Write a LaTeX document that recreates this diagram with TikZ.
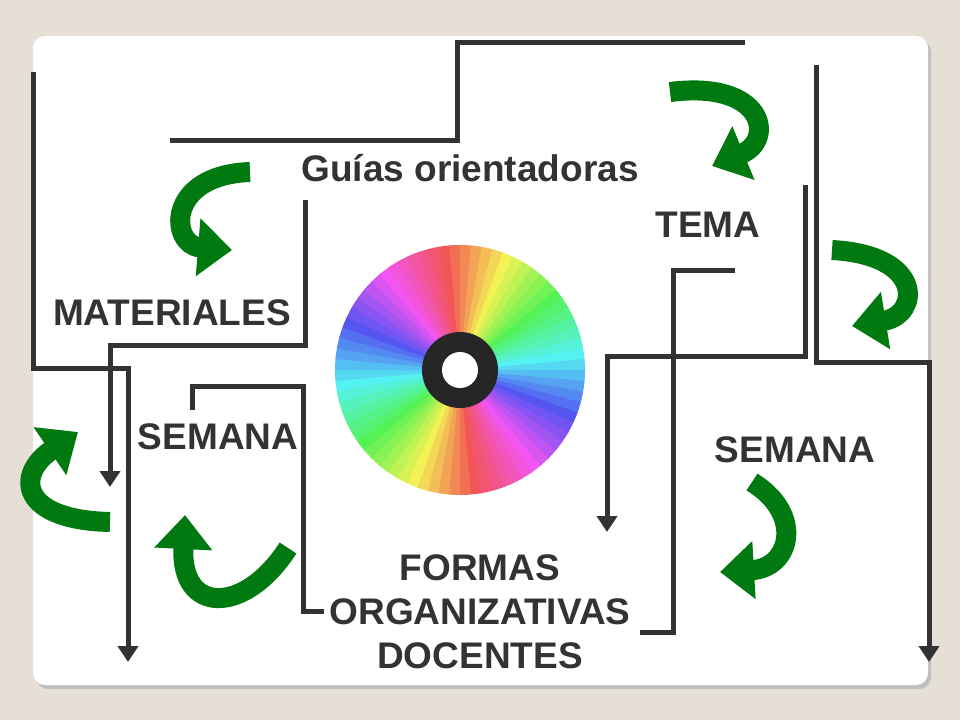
\documentclass[tikz,border=0pt]{standalone}
\usepackage{fontspec}
\setmainfont{Liberation Sans}
\usetikzlibrary{arrows.meta}
\definecolor{bg}{HTML}{E5DFD5}
\definecolor{ln}{HTML}{333333}
\definecolor{gr}{HTML}{007A10}
\begin{document}
\begin{tikzpicture}[x=1pt,y=-1pt,
  conn/.style={draw=ln,line width=5pt},
  arr/.style={conn,-{Triangle[length=16pt,width=20pt]}},
  garr/.style={draw=gr,line width=20pt,-{Triangle[length=34pt,width=56pt]}},
  lbl/.style={font=\fontsize{37}{44}\selectfont\bfseries,text=ln,align=center}]
\fill[bg] (0,0) rectangle (960,720);
\useasboundingbox (0,0) rectangle (960,720);
\fill[black!25,rounded corners=12pt] (36,40) rectangle (931,689);
\fill[white,rounded corners=12pt] (33,36) rectangle (928,685);
% disc
\foreach \i in {0,...,71}{
  \pgfmathsetmacro\h{mod(\i*10,360)/360}
  \definecolor{wc}{hsb}{\h,0.65,0.95}
  \fill[wc] (460,370) -- ++({\i*5+80}:125) arc[start angle={\i*5+80},end angle={\i*5+85.5},radius=125] -- cycle;
}
\fill[black!85] (460,370) circle (38);
\fill[white] (460,370) circle (18);
% nodes
\node[lbl] (guias) at (470,168) {Guías orientadoras};
\node[lbl] (tema) at (708,225) {TEMA};
\node[lbl] (mat) at (172,313) {MATERIALES};
\node[lbl] (sem1) at (218,437) {SEMANA};
\node[lbl] (sem2) at (795,450) {SEMANA};
\node[lbl] (formas) at (480,612) {FORMAS\\ORGANIZATIVAS\\DOCENTES};
% coordinates
\coordinate (a1) at (170,140); \coordinate (a2) at (457,140);
\coordinate (a3) at (457,42); \coordinate (a4) at (745,42);
\coordinate (b1) at (33,72); \coordinate (b2) at (33,368); \coordinate (b3) at (128,368); \coordinate (b4) at (128,662);
\coordinate (c1) at (305,200); \coordinate (c2) at (305,345); \coordinate (c3) at (110,345); \coordinate (c4) at (110,487);
\coordinate (d1) at (192,410); \coordinate (d2) at (192,386); \coordinate (d3) at (303,386); \coordinate (d4) at (303,611); \coordinate (d5) at (324,611);
\coordinate (e1) at (816,65); \coordinate (e2) at (816,362); \coordinate (e3) at (929,362); \coordinate (e4) at (929,662);
\coordinate (f1) at (805,185); \coordinate (f2) at (805,356); \coordinate (f3) at (607,356); \coordinate (f4) at (607,532);
\coordinate (g1) at (735,270); \coordinate (g2) at (673,270); \coordinate (g3) at (673,632); \coordinate (g4) at (640,632);
\draw[conn] (a1) -- (a2) -- (a3) -- (a4);
\draw[arr] (b1) -- (b2) -- (b3) -- (b4);
\draw[arr] (c1) -- (c2) -- (c3) -- (c4);
\draw[conn] (d1) -- (d2) -- (d3) -- (d4) -- (d5);
\draw[arr] (e1) -- (e2) -- (e3) -- (e4);
\draw[arr] (f1) -- (f2) -- (f3) -- (f4);
\draw[conn] (g1) -- (g2) -- (g3) -- (g4);
% green arrows
\coordinate (h1s) at (250,172); \coordinate (h1e) at (232,250);
\draw[garr] (h1s) .. controls (165,175) and (170,245) .. (h1e);
\coordinate (h2s) at (670,92); \coordinate (h2e) at (712,166);
\draw[garr] (h2s) .. controls (765,80) and (775,140) .. (h2e);
\coordinate (h3s) at (832,250); \coordinate (h3e) at (852,326);
\draw[garr] (h3s) .. controls (925,255) and (920,315) .. (h3e);
\coordinate (h4s) at (752,482); \coordinate (h4e) at (720,572);
\draw[garr] (h4s) .. controls (805,515) and (790,568) .. (h4e);
\coordinate (h5s) at (288,548); \coordinate (h5e) at (185,515);
\draw[garr] (h5s) .. controls (245,615) and (180,615) .. (h5e);
\coordinate (h6s) at (110,522); \coordinate (h6e) at (78,432);
\draw[garr] (h6s) .. controls (20,520) and (15,475) .. (h6e);
\end{tikzpicture}
\end{document}
